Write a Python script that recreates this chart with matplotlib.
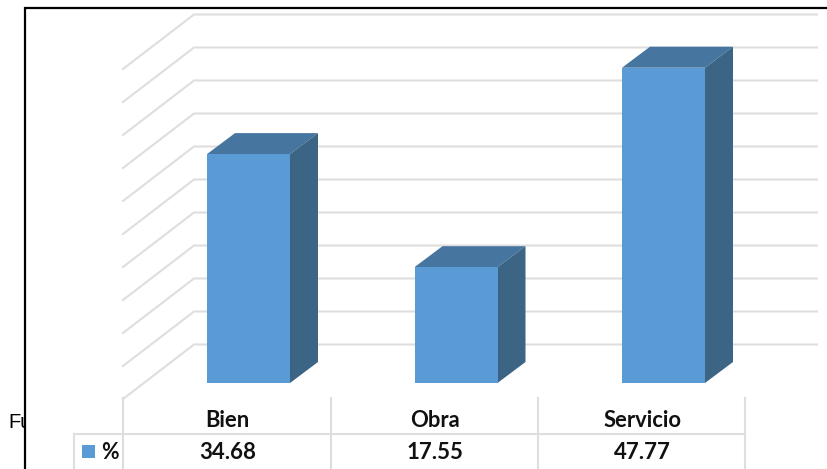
#!/usr/bin/env python
# -*- coding:utf-8 -*-

import matplotlib
matplotlib.use('Agg')
from matplotlib import pyplot as plt
from matplotlib.patches import Polygon, Rectangle

categories = ['Bien', 'Obra', 'Servicio']
values = [34.68, 17.55, 47.77]
value_labels = ['34.68', '17.55', '47.77']
grid_values = [0, 5, 10, 15, 20, 25, 30, 35, 40, 45, 50]
series_name = '%'

FRONT = '#5B9BD5'
TOP = '#46759F'
SIDE = '#3B6485'
GRID = '#DEDEDE'

# pixel layout of the picture: category spacing and height of one unit
SLOT = 207.5
UNIT = 6.6
X0 = 248.5
Y0 = 383.0


def px(x, y):
    """picture pixels to data coordinates"""
    return (x - X0) / SLOT, (Y0 - y) / UNIT


fig = plt.figure(figsize=[8.28, 4.69], dpi=100)
ax = fig.add_axes([0, 0, 1, 1])
ax.set_xlim(px(0, 0)[0], px(828, 0)[0])
ax.set_ylim(px(0, 469)[1], px(0, 0)[1])
ax.axis('off')

# text cut off by the frame
ax.text(*px(8, 422), 'Fu', family='Liberation Sans', fontsize=14.5, va='center', zorder=0)

# frame, runs off the right and bottom of the picture
x_a, y_a = px(25, 8)
x_b, y_b = px(840, 480)
ax.add_patch(Rectangle((x_a, y_b), x_b - x_a, y_a - y_b, fc='white', ec='black', lw=1.6, zorder=1))

# walls
wall_front = (Y0 - 399) / UNIT
wall_back = (Y0 - 344.5) / UNIT
x_front = px(123, 0)[0]
x_back = px(194, 0)[0]
x_right = px(817, 0)[0]
for v in grid_values:
    ax.plot([x_front, x_back, x_right], [v + wall_front, v + wall_back, v + wall_back],
            color=GRID, lw=1.5, zorder=2, solid_joinstyle='miter')

# bars
half = 41.5 / SLOT
dx = 28 / SLOT
dy = 21 / UNIT
for i, v in enumerate(values):
    ax.bar(i, v, width=2 * half, color=FRONT, zorder=5)
    ax.add_patch(Polygon([(i - half, v), (i + half, v), (i + half + dx, v + dy), (i - half + dx, v + dy)],
                         fc=TOP, ec='none', zorder=4))
    ax.add_patch(Polygon([(i + half, 0), (i + half + dx, dy), (i + half + dx, v + dy), (i + half, v)],
                         fc=SIDE, ec='none', zorder=4))

# data table
for x, top in [(123, 398), (331, 398), (538, 398), (745, 398), (74, 434)]:
    ax.plot(*zip(px(x, top), px(x, 475)), color=GRID, lw=1.5, zorder=2)
ax.plot(*zip(px(74, 434), px(745, 434)), color=GRID, lw=1.5, zorder=2)

y_head = px(0, 420)[1]
y_row = px(0, 452)[1]
for i in range(len(categories)):
    ax.text(i - 21 / SLOT, y_head, categories[i], family='Lato', weight='bold', fontsize=15.8,
            ha='center', va='center', color='#111111', zorder=6)
    ax.text(i - 21 / SLOT, y_row, value_labels[i], family='Lato', weight='bold', fontsize=16,
            ha='center', va='center', color='#111111', zorder=6)

kx, ky = px(82, 458)
ax.add_patch(Rectangle((kx, ky), 12.5 / SLOT, 13 / UNIT, fc=FRONT, ec='none', zorder=6))
ax.text(*px(101, 452), series_name, family='Lato', weight='bold', fontsize=15.5,
        va='center', color='#111111', zorder=6)

plt.savefig('out.png', dpi=100)
